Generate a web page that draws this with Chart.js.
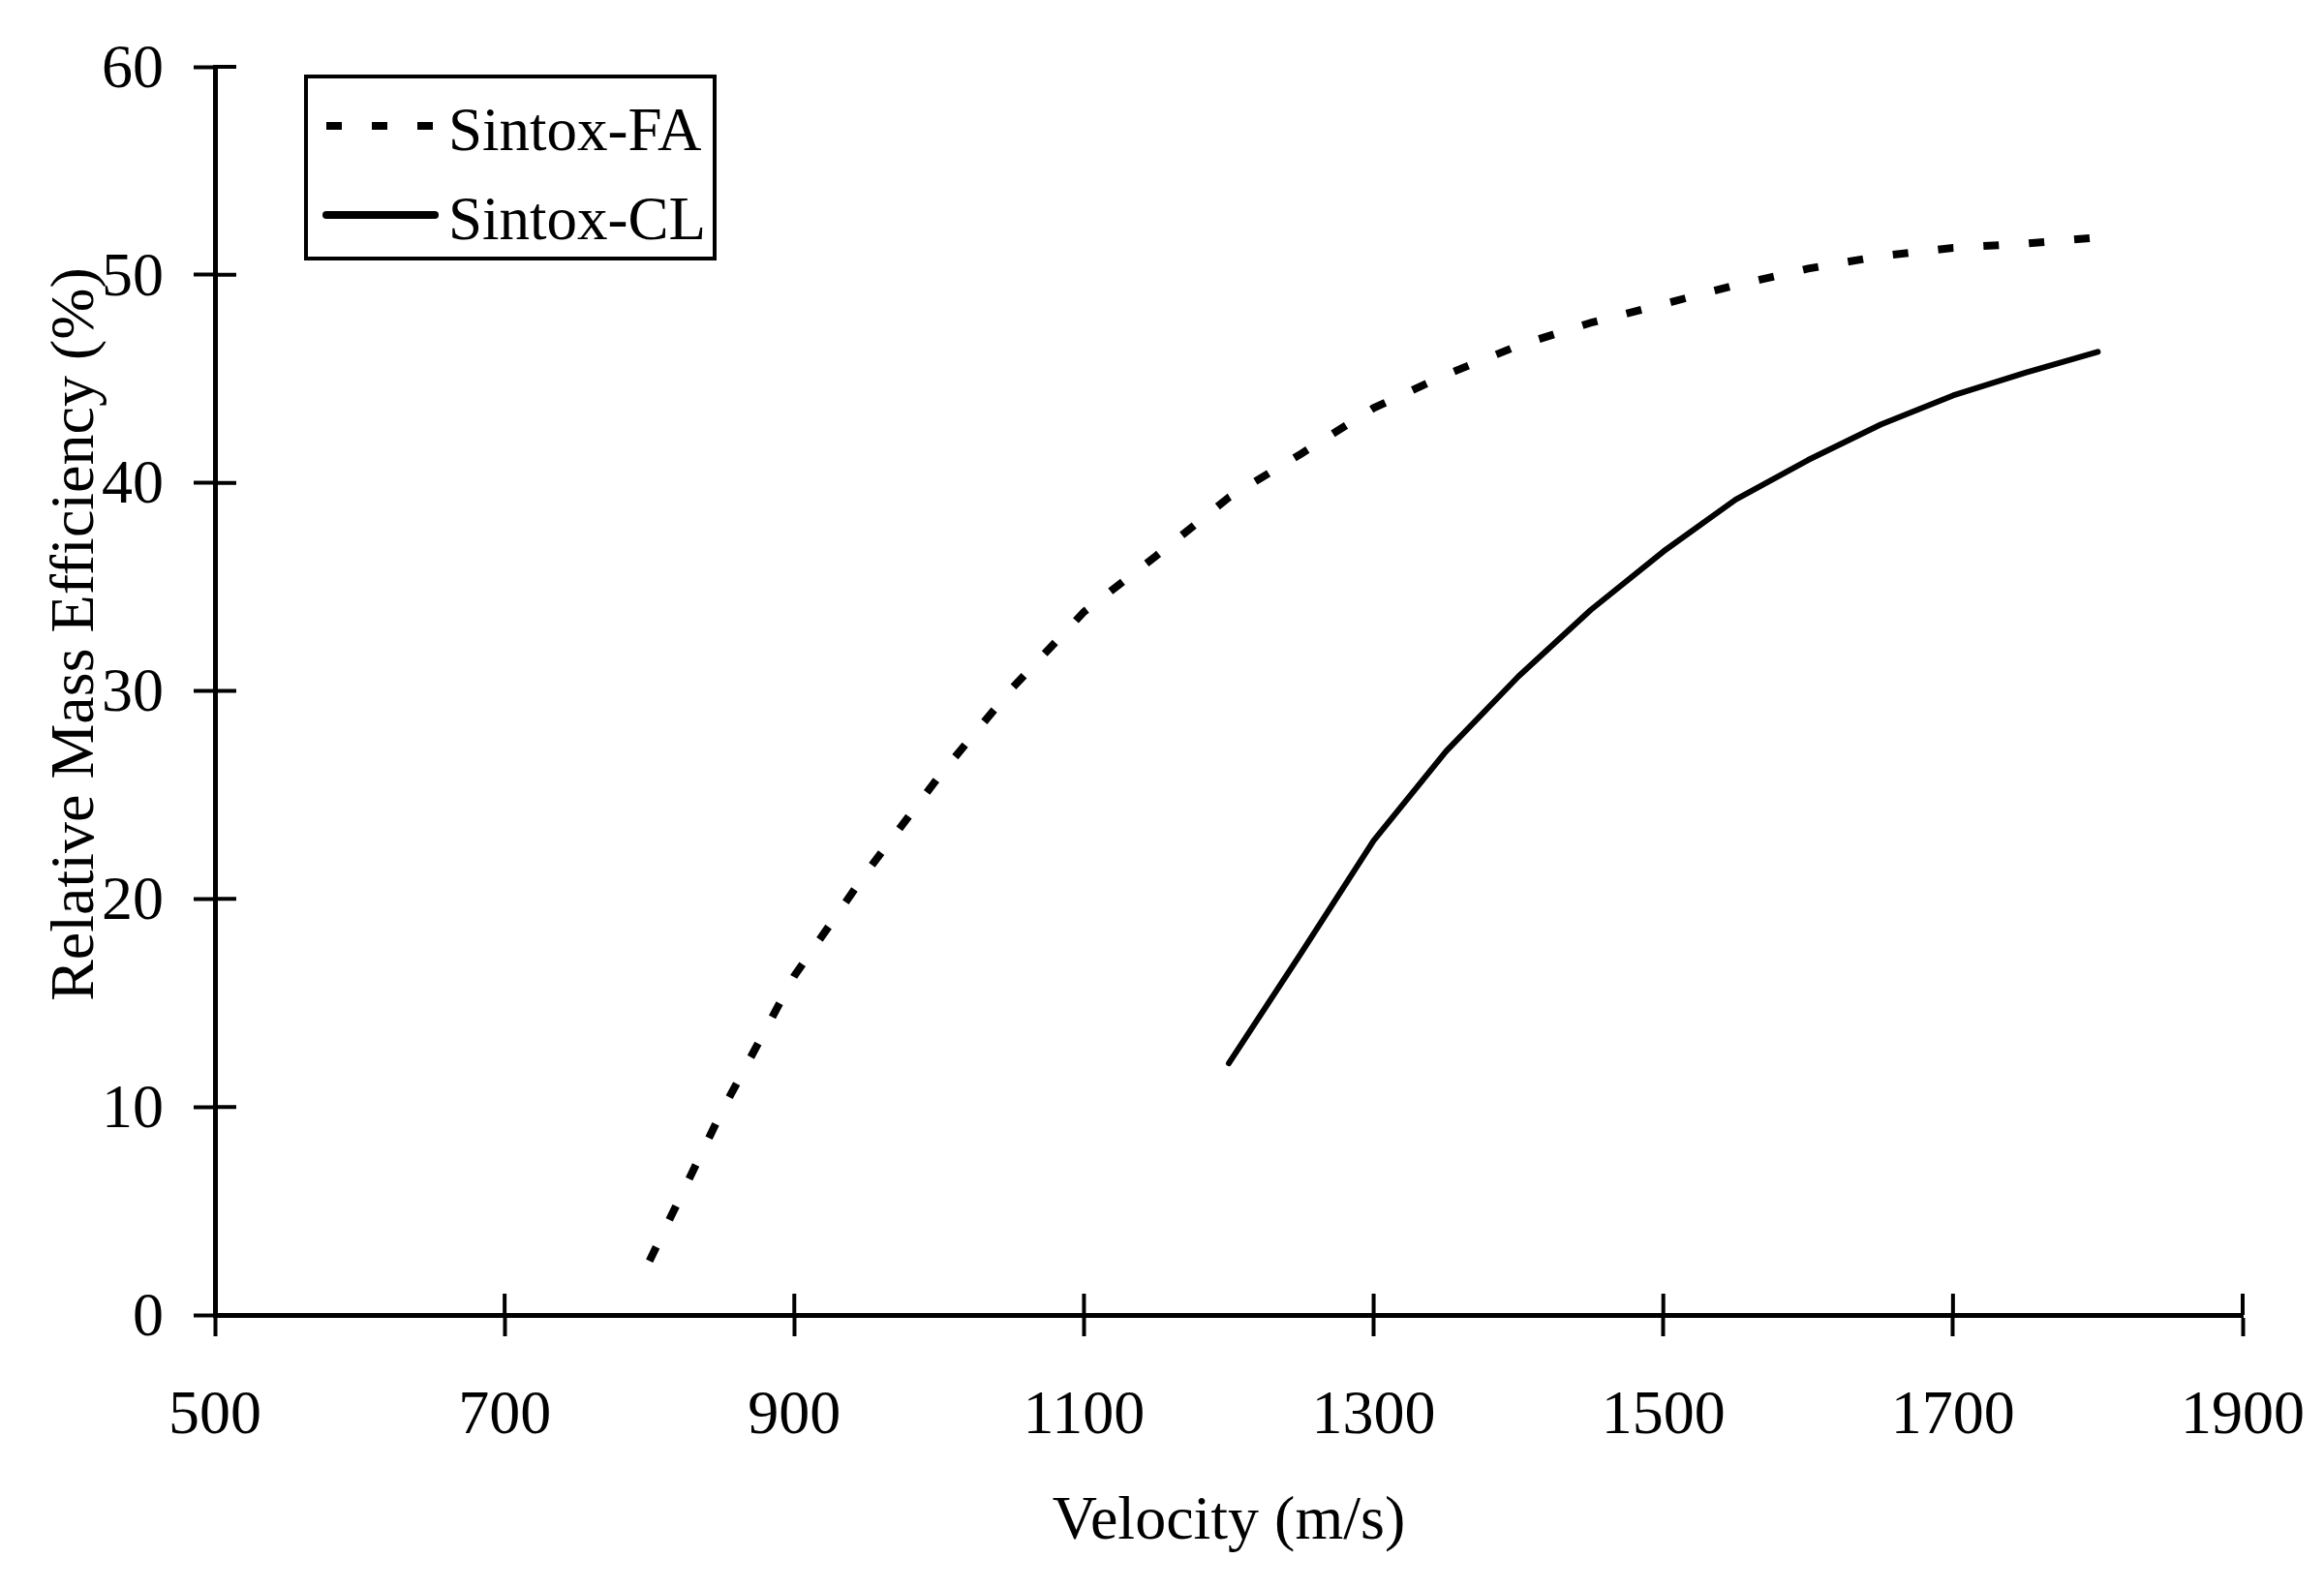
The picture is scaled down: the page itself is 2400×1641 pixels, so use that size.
<!DOCTYPE html>
<html>
<head>
<meta charset="utf-8">
<title>Relative Mass Efficiency vs Velocity</title>
<script src="https://cdn.jsdelivr.net/npm/chart.js@4.4.1/dist/chart.umd.min.js"></script>
<style>
  html, body { margin: 0; padding: 0; background: #fff; }
  #wrap { width: 2400px; height: 1641px; }
</style>
</head>
<body>
<div id="wrap"><canvas id="chart" width="2400" height="1641"></canvas></div>
<script>
// values (velocity in m/s, efficiency in %)
const faVelocity = [800, 850, 900, 950, 1000, 1050, 1100, 1150, 1200, 1250, 1300, 1350, 1400, 1450, 1500, 1550, 1600, 1650, 1700, 1750, 1800];
const faEfficiency = [2.6, 9.8, 16.3, 21.3, 25.9, 30.1, 33.8, 36.5, 39.3, 41.4, 43.6, 45.2, 46.6, 47.7, 48.6, 49.5, 50.3, 50.9, 51.3, 51.5, 51.8];
const clVelocity = [1200, 1250, 1300, 1350, 1400, 1450, 1500, 1550, 1600, 1650, 1700, 1750, 1800];
const clEfficiency = [12.1, 17.4, 22.8, 27.1, 30.7, 33.9, 36.7, 39.2, 41.1, 42.8, 44.2, 45.3, 46.3];
const xTicks = [500, 700, 900, 1100, 1300, 1500, 1700, 1900];
const yTicks = [0, 10, 20, 30, 40, 50, 60];

const FONT = "'Liberation Serif', 'Times New Roman', serif";
Chart.defaults.font.family = FONT;
Chart.defaults.color = "#000";

const TICK_LEN = 22;

// tick marks cross the axis: Chart.js draws the outer half, this the inner half
const innerTicks = {
  id: "innerTicks",
  afterDraw(chart) {
    const { ctx, chartArea, scales: { x, y } } = chart;
    ctx.save();
    ctx.strokeStyle = "#000";
    ctx.lineWidth = 4;
    ctx.beginPath();
    xTicks.forEach(v => {
      const px = x.getPixelForValue(v);
      ctx.moveTo(px, chartArea.bottom);
      ctx.lineTo(px, chartArea.bottom - TICK_LEN);
    });
    yTicks.forEach(v => {
      const py = y.getPixelForValue(v);
      ctx.moveTo(chartArea.left, py);
      ctx.lineTo(chartArea.left + TICK_LEN, py);
    });
    ctx.stroke();
    ctx.restore();
  }
};

// y axis title sits a bit above the middle of the axis in the original
const yTitle = {
  id: "yTitle",
  afterDraw(chart) {
    const { ctx } = chart;
    ctx.save();
    ctx.translate(96, 655);
    ctx.rotate(-Math.PI / 2);
    ctx.font = "64px " + FONT;
    ctx.fillStyle = "#000";
    ctx.textAlign = "center";
    ctx.textBaseline = "alphabetic";
    ctx.fillText("Relative Mass Efficiency (%)", 0, 0);
    ctx.restore();
  }
};

// boxed legend in the upper left of the plot
const boxLegend = {
  id: "boxLegend",
  afterDraw(chart) {
    const { ctx } = chart;
    ctx.save();
    ctx.strokeStyle = "#000";
    ctx.lineWidth = 4;
    ctx.strokeRect(316, 79, 422, 188);
    const rows = [130, 222];
    chart.data.datasets.forEach((ds, i) => {
      const ly = rows[i];
      ctx.beginPath();
      ctx.lineWidth = ds.borderDash ? ds.borderWidth : 8;
      ctx.setLineDash(ds.borderDash || []);
      ctx.lineCap = ds.borderDash ? "butt" : "round";
      ctx.moveTo(337, ly);
      ctx.lineTo(449, ly);
      ctx.stroke();
      ctx.setLineDash([]);
      ctx.font = "63px " + FONT;
      ctx.fillStyle = "#000";
      ctx.textAlign = "left";
      ctx.textBaseline = "alphabetic";
      ctx.fillText(ds.label, 463, ly + 25);
    });
    ctx.restore();
  }
};

const ctx = document.getElementById("chart").getContext("2d");
new Chart(ctx, {
  type: "line",
  data: {
    datasets: [
      {
        label: "Sintox-FA",
        data: faVelocity.map((v, i) => ({ x: v, y: faEfficiency[i] })),
        borderColor: "#000",
        borderWidth: 8,
        borderDash: [16, 31],
        pointRadius: 0,
        tension: 0,
        fill: false,
      },
      {
        label: "Sintox-CL",
        data: clVelocity.map((v, i) => ({ x: v, y: clEfficiency[i] })),
        borderColor: "#000",
        borderWidth: 6,
        borderCapStyle: "round",
        borderJoinStyle: "round",
        pointRadius: 0,
        tension: 0,
        fill: false,
      },
    ],
  },
  options: {
    responsive: false,
    animation: false,
    layout: { padding: { left: 0, right: 84, top: 69, bottom: 0 } },
    plugins: {
      legend: { display: false },
      tooltip: { enabled: false },
    },
    scales: {
      x: {
        type: "linear",
        min: 500,
        max: 1900,
        afterBuildTicks: scale => { scale.ticks = xTicks.map(v => ({ value: v })); },
        afterFit: scale => {
          scale.height = 1641 - 1358;
          scale.paddingLeft = 0;
          scale.paddingRight = 0;
        },
        border: { display: true, color: "#000", width: 5 },
        grid: { drawOnChartArea: false, drawTicks: true, tickLength: TICK_LEN, tickWidth: 4, tickColor: "#000" },
        ticks: { font: { size: 64 }, padding: 45, maxRotation: 0, callback: v => String(v) },
        title: { display: true, text: "Velocity (m/s)", font: { size: 64 }, padding: { top: 0, bottom: 30 } },
      },
      y: {
        type: "linear",
        min: 0,
        max: 60,
        afterBuildTicks: scale => { scale.ticks = yTicks.map(v => ({ value: v })); },
        afterFit: scale => {
          scale.width = 222;
          scale.paddingTop = 0;
          scale.paddingBottom = 0;
        },
        border: { display: true, color: "#000", width: 5 },
        grid: { drawOnChartArea: false, drawTicks: true, tickLength: TICK_LEN, tickWidth: 4, tickColor: "#000" },
        ticks: { font: { size: 64 }, padding: 31, labelOffset: 4, callback: v => String(v) },
      },
    },
  },
  plugins: [innerTicks, yTitle, boxLegend],
});
</script>
</body>
</html>
